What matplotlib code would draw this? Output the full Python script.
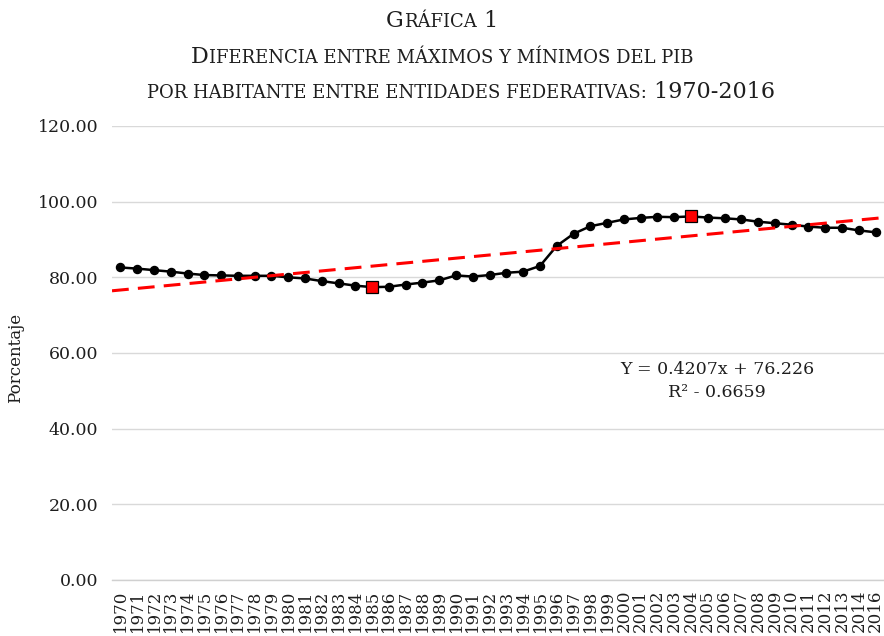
import matplotlib
matplotlib.use('Agg')
import matplotlib.pyplot as plt
import numpy as np
from matplotlib.ticker import FormatStrFormatter

# years shown on the category axis (2015 is not in the source series)
years = ['1970', '1971', '1972', '1973', '1974', '1975', '1976', '1977', '1978', '1979',
         '1980', '1981', '1982', '1983', '1984', '1985', '1986', '1987', '1988', '1989',
         '1990', '1991', '1992', '1993', '1994', '1995', '1996', '1997', '1998', '1999',
         '2000', '2001', '2002', '2003', '2004', '2005', '2006', '2007', '2008', '2009',
         '2010', '2011', '2012', '2013', '2014', '2016']
values = [82.6, 82.3, 81.9, 81.5, 81.0, 80.6, 80.5, 80.4, 80.4, 80.4,
          80.0, 79.7, 79.0, 78.4, 77.8, 77.4, 77.5, 78.1, 78.6, 79.2,
          80.5, 80.2, 80.6, 81.2, 81.5, 83.0, 88.3, 91.5, 93.5, 94.4,
          95.3, 95.7, 96.0, 95.9, 96.1, 95.8, 95.6, 95.3, 94.7, 94.3,
          93.9, 93.4, 93.1, 93.1, 92.4, 91.9]
min_year = '1985'
max_year = '2004'

# linear trend as printed on the chart
slope = 0.4207
intercept = 76.226
eq_text = 'Y = 0.4207x + 76.226'
r2_text = 'R² - 0.6659'

plt.rcParams['font.family'] = 'DejaVu Serif'
txt_color = '#1e1e1e'

fig = plt.figure(figsize=(8.84, 6.36), dpi=100)
ax = fig.add_axes([0.1267, 0.0881, 0.8733, 0.7138])

x = np.arange(len(years))
ax.plot(x, values, color='black', lw=1.8, marker='o', ms=5.8, zorder=3)
for yr in (min_year, max_year):
    i = years.index(yr)
    ax.plot(x[i], values[i], marker='s', ms=9, mfc='red', mec='black', mew=0.9,
            ls='none', zorder=4)

xt = np.array([-0.5, len(years) - 0.5])
ax.plot(xt, slope * (xt + 1) + intercept, color='red', lw=2.2,
        ls=(0, (5.5, 3)), zorder=5)

ax.set_xlim(-0.5, len(years) - 0.5)
ax.set_ylim(0, 120)
ax.set_yticks(np.arange(0, 121, 20))
ax.yaxis.set_major_formatter(FormatStrFormatter('%.2f'))
ax.set_xticks(x)
ax.set_xticklabels(years, rotation=90, fontsize=12, color=txt_color)
ax.tick_params(axis='x', length=0, pad=7)
ax.tick_params(axis='y', length=0, pad=10, labelsize=12.5, labelcolor=txt_color)
ax.grid(axis='y', color='#d9d9d9', lw=1)
ax.set_axisbelow(True)
for s in ['top', 'right', 'left']:
    ax.spines[s].set_visible(False)
ax.spines['bottom'].set_color('#d0d0d0')
ax.spines['bottom'].set_linewidth(1)

ax.text(0.7837, 0.4626, eq_text, transform=ax.transAxes, ha='center', va='center',
        fontsize=12.5, color=txt_color)
ax.text(0.7837, 0.4119, r2_text, transform=ax.transAxes, ha='center', va='center',
        fontsize=12.5, color=txt_color)

fig.text(0.018, 0.437, 'Porcentaje', rotation=90, ha='center', va='center',
         fontsize=12, color=txt_color)


# title in small caps: pieces drawn side by side, then centred
def small_caps_line(parts, y, shift=0):
    r = fig.canvas.get_renderer()
    texts = [fig.text(0, y, s, fontsize=size, va='baseline', ha='left', color=txt_color)
             for s, size in parts]
    widths = [t.get_window_extent(r).width for t in texts]
    x0 = (fig.bbox.width - sum(widths)) / 2 + shift
    for t, w in zip(texts, widths):
        t.set_x(x0 / fig.bbox.width)
        x0 += w


big, small = 16, 13
small_caps_line([('G', big), ('RÁFICA', small), (' 1', big)], 0.9575)
small_caps_line([('D', big), ('IFERENCIA ENTRE MÁXIMOS Y MÍNIMOS DEL PIB', small)], 0.9017)
small_caps_line([('POR HABITANTE ENTRE ENTIDADES FEDERATIVAS:', small), (' 1970-2016', big)],
                0.8459, shift=19)

fig.savefig('out.png', dpi=100, facecolor='white')
